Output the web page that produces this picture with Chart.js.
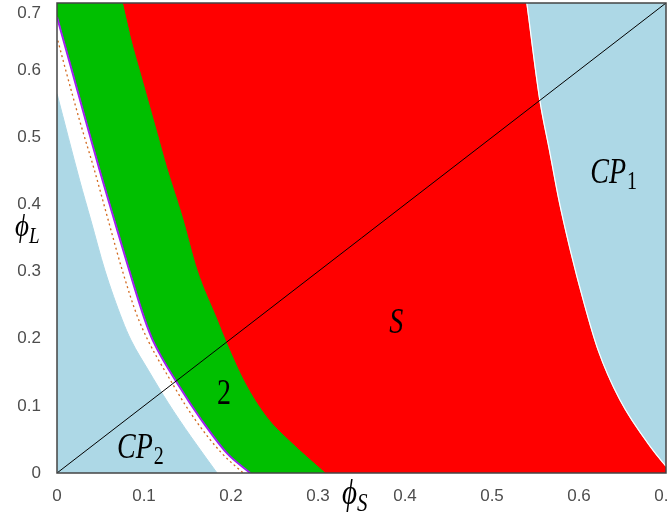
<!DOCTYPE html>
<html>
<head>
<meta charset="utf-8">
<title>Diagrama de fases</title>
<script src="https://cdn.jsdelivr.net/npm/chart.js@4.4.1/dist/chart.umd.min.js"></script>
<style>
  html, body { margin: 0; padding: 0; background: #fff; }
  #contenedor { width: 668px; height: 520px; }
</style>
</head>
<body>
<div id="contenedor"><canvas id="grafica"></canvas></div>
<script>
// Rango de los ejes
const xMin = 0, xMax = 0.7, yMin = 0, yMax = 0.7;
const xTicks = [0, 0.1, 0.2, 0.3, 0.4, 0.5, 0.6, 0.7];
const xTickLabels = ['0', '0.1', '0.2', '0.3', '0.4', '0.5', '0.6', '0.7'];
const yTicks = [0, 0.1, 0.2, 0.3, 0.4, 0.5, 0.6, 0.7];
const yTickLabels = ['0', '0.1', '0.2', '0.3', '0.4', '0.5', '0.6', '0.7'];

// Frontera verde / rojo (borde izquierdo de S), de arriba hacia abajo
const frontSY = [0.700, 0.655, 0.580, 0.506, 0.455, 0.381, 0.302, 0.228, 0.193, 0.134, 0.083, 0.049, 0];
const frontSX = [0.075, 0.083, 0.099, 0.115, 0.126, 0.144, 0.161, 0.184, 0.195, 0.216, 0.241, 0.266, 0.308];

// Frontera violeta (borde izquierdo de la zona 2)
const front2Y = [0.679, 0.600, 0.525, 0.451, 0.376, 0.302, 0.228, 0.198, 0.128, 0.079, 0.030, 0];
const front2X = [0, 0.017, 0.033, 0.049, 0.066, 0.083, 0.101, 0.110, 0.141, 0.166, 0.195, 0.222];

// Frontera de CP2 (azul / blanco)
const frontCP2Y = [0.565, 0.436, 0.376, 0.302, 0.228, 0.198, 0.153, 0.104, 0.054, 0];
const frontCP2X = [0, 0.026, 0.039, 0.055, 0.075, 0.085, 0.105, 0.128, 0.154, 0.184];

// Frontera de CP1 (rojo / azul), de arriba hacia abajo
const frontCP1Y = [0.700, 0.555, 0.481, 0.406, 0.332, 0.257, 0.183, 0.109, 0.034, 0.010];
const frontCP1X = [0.540, 0.555, 0.566, 0.577, 0.590, 0.605, 0.622, 0.647, 0.685, 0.700];

// Linea punteada naranja dentro de la banda blanca
const puntosY = [0.644, 0.600, 0.525, 0.451, 0.376, 0.302, 0.228, 0.128, 0.079, 0.030, 0];
const puntosX = [0.001, 0.010, 0.026, 0.043, 0.059, 0.075, 0.094, 0.135, 0.159, 0.189, 0.214];

// Diagonal phi_L = phi_S
const diagX = [0, 0.7];
const diagY = [0, 0.7];

// Etiquetas de las regiones
const etiquetas = ['CP', 'CP', 'S', '2'];
const subindices = ['1', '2', '', ''];
const etiquetasCursiva = [true, true, true, false];
const etiquetasX = [0.613, 0.069, 0.382, 0.184];
const etiquetasY = [0.432, 0.022, 0.208, 0.103];

const pares = (xs, ys) => xs.map((x, i) => ({ x: x, y: ys[i] }));

// Las fronteras bajan con phi_S, asi que cada zona es el area bajo su curva
// (o sobre ella, para CP1). El fondo del grafico es rojo (S).
function area(data, color, relleno, orden, tension) {
  return {
    data: data,
    showLine: true,
    fill: relleno,
    backgroundColor: color,
    borderColor: color,
    borderWidth: 1,
    pointRadius: 0,
    cubicInterpolationMode: tension === 0 ? 'default' : 'monotone',
    tension: 0,
    order: orden
  };
}

function linea(xs, ys, color, ancho, orden, guiones) {
  return {
    data: pares(xs, ys),
    showLine: true,
    fill: false,
    borderColor: color,
    borderWidth: ancho,
    borderDash: guiones || [],
    pointRadius: 0,
    cubicInterpolationMode: 'monotone',
    order: orden
  };
}

// esquina superior izquierda de la zona 2 (antes de que empiece la frontera)
const esquina2 = [{ x: xMin, y: yMax }].concat(pares(frontSX, frontSY).slice(0, 2));

function textoEstirado(ctx, txt, x, y, font, escala) {
  ctx.save();
  ctx.font = font;
  ctx.translate(x, y);
  ctx.scale(1, escala);
  ctx.fillText(txt, 0, 0);
  const w = ctx.measureText(txt).width;
  ctx.restore();
  return w;
}

// Fondo rojo (zona S) dentro del area del grafico
const fondo = {
  id: 'fondo',
  beforeDraw(chart) {
    const { ctx, chartArea: a } = chart;
    ctx.save();
    ctx.fillStyle = '#ffffff';
    ctx.fillRect(0, 0, chart.width, chart.height);
    ctx.fillStyle = '#ff0000';
    ctx.fillRect(a.left, a.top, a.right - a.left, a.bottom - a.top);
    ctx.restore();
  }
};

// Marco, etiquetas de regiones y titulos de los ejes
const textos = {
  id: 'textos',
  afterDraw(chart) {
    const { ctx, chartArea: a } = chart;
    const xs = chart.scales.x, ys = chart.scales.y;
    ctx.save();
    ctx.strokeStyle = '#444';
    ctx.lineWidth = 1.5;
    ctx.strokeRect(a.left, a.top, a.right - a.left, a.bottom - a.top);

    ctx.fillStyle = '#000';
    ctx.textBaseline = 'alphabetic';
    ctx.textAlign = 'left';
    for (let i = 0; i < etiquetas.length; i++) {
      const px = xs.getPixelForValue(etiquetasX[i]);
      const py = ys.getPixelForValue(etiquetasY[i]);
      const fuente = (etiquetasCursiva[i] ? 'italic ' : '') + '28px "Liberation Serif"';
      const w = textoEstirado(ctx, etiquetas[i], px, py, fuente, 1.25);
      if (subindices[i]) {
        textoEstirado(ctx, subindices[i], px + w + 1, py + 6, '20px "Liberation Serif"', 1.25);
      }
    }

    // phi_S
    let w = textoEstirado(ctx, 'ϕ', a.left + 285, a.bottom + 31, 'italic 29px "Liberation Serif", "DejaVu Serif"', 1.2);
    textoEstirado(ctx, 'S', a.left + 285 + w, a.bottom + 38, 'italic 21px "Liberation Serif"', 1.2);
    // phi_L
    w = textoEstirado(ctx, 'ϕ', 15, 236, 'italic 27px "Liberation Serif", "DejaVu Serif"', 1.2);
    textoEstirado(ctx, 'L', 15 + w, 243, 'italic 19px "Liberation Serif"', 1.2);
    ctx.restore();
  }
};

const ctx = document.getElementById('grafica').getContext('2d');
const chart = new Chart(ctx, {
  type: 'scatter',
  data: {
    datasets: [
      linea(diagX, diagY, '#000000', 1, 0),
      linea(puntosX, puntosY, '#d2691e', 1.3, 1, [2, 3]),
      linea(front2X, front2Y, '#a020f0', 2, 2),
      linea(frontCP1X, frontCP1Y, '#ffffff', 1.2, 3),
      area(pares(frontCP2X, frontCP2Y), '#add8e6', 'start', 4),
      area(pares(front2X, front2Y), '#ffffff', 'start', 5),
      area(pares(frontSX, frontSY), '#00bf00', 'start', 6),
      area(esquina2, '#00bf00', 'start', 7, 0),
      area(pares(frontCP1X, frontCP1Y), '#add8e6', 'end', 8)
    ]
  },
  options: {
    responsive: true,
    maintainAspectRatio: false,
    animation: false,
    events: [],
    layout: { padding: { top: 3, right: 2, left: 0, bottom: 0 } },
    plugins: {
      legend: { display: false },
      tooltip: { enabled: false }
    },
    scales: {
      x: {
        type: 'linear',
        min: xMin,
        max: xMax,
        grid: { display: false, drawTicks: false },
        border: { display: false },
        afterBuildTicks: (s) => { s.ticks = xTicks.map(v => ({ value: v })); },
        afterFit: (s) => { s.height = 47; s.paddingLeft = 0; s.paddingRight = 0; },
        ticks: {
          padding: 13,
          maxRotation: 0,
          autoSkip: false,
          color: '#4d4d4d',
          font: { family: 'Liberation Sans', size: 17 },
          callback: (v, i) => xTickLabels[i]
        }
      },
      y: {
        type: 'linear',
        min: yMin,
        max: yMax,
        grid: { display: false, drawTicks: false },
        border: { display: false },
        afterBuildTicks: (s) => { s.ticks = yTicks.map(v => ({ value: v })); },
        afterFit: (s) => { s.width = 57; s.paddingTop = 0; s.paddingBottom = 0; },
        ticks: {
          padding: 16,
          autoSkip: false,
          color: '#4d4d4d',
          font: { family: 'Liberation Sans', size: 17 },
          // la etiqueta de arriba va desplazada hacia abajo como en el original
          callback: (v, i) => i === yTicks.length - 1 ? ['', yTickLabels[i]] : yTickLabels[i]
        }
      }
    }
  },
  plugins: [fondo, textos]
});
</script>
</body>
</html>
